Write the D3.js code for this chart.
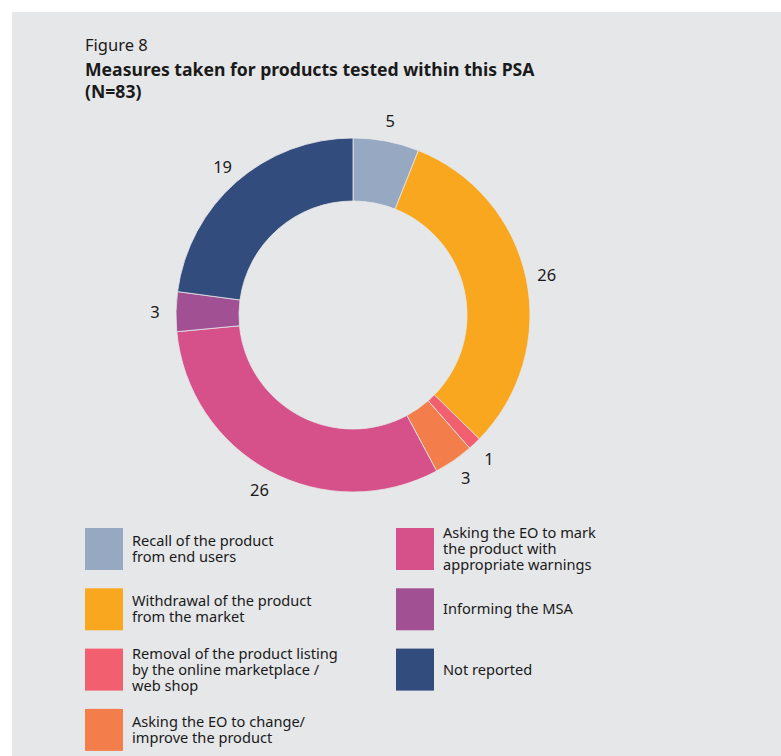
<!DOCTYPE html>
<html>
<head>
<meta charset="utf-8">
<script src="https://cdn.jsdelivr.net/npm/d3@7"></script>
<style>
  body { margin: 0; background: #fff; }
  svg { display: block; }
  text { font-family: "Noto Sans", Roboto, sans-serif; fill: #1a1a1a; }
</style>
</head>
<body>
<svg width="781" height="756"></svg>
<script>
const categories = [
  "Recall of the product from end users",
  "Withdrawal of the product from the market",
  "Removal of the product listing by the online marketplace / web shop",
  "Asking the EO to change/ improve the product",
  "Asking the EO to mark the product with appropriate warnings",
  "Informing the MSA",
  "Not reported"
];
const values = [5, 26, 1, 3, 26, 3, 19];
const colors = ["#97a8c2", "#f9a71e", "#f25f6f", "#f47e4b", "#d65189", "#a05093", "#314c7d"];
const legendLines = [
  ["Recall of the product", "from end users"],
  ["Withdrawal of the product", "from the market"],
  ["Removal of the product listing", "by the online marketplace /", "web shop"],
  ["Asking the EO to change/", "improve the product"],
  ["Asking the EO to mark", "the product with", "appropriate warnings"],
  ["Informing the MSA"],
  ["Not reported"]
];

const svg = d3.select("svg");
const W = 781, H = 756;

svg.append("rect")
  .attr("x", 12).attr("y", 12)
  .attr("width", W - 12).attr("height", H - 12)
  .attr("fill", "#e6e7e9");

// titles
svg.append("text").attr("x", 85).attr("y", 51)
  .attr("font-size", 16.5).text("Figure 8");
svg.append("text").attr("x", 85).attr("y", 76)
  .attr("font-size", 17.6).attr("font-weight", "bold")
  .text("Measures taken for products tested within this PSA");
svg.append("text").attr("x", 85).attr("y", 98)
  .attr("font-size", 17.6).attr("font-weight", "bold")
  .text("(N=83)");

// donut
const cx = 353, cy = 315, rOuter = 177, rInner = 114, rLabel = 198;
const data = values.map((v, i) => ({ name: categories[i], value: v, color: colors[i] }));

const pie = d3.pie().value(d => d.value).sort(null);
const arc = d3.arc().innerRadius(rInner).outerRadius(rOuter);
const labelArc = d3.arc().innerRadius(rLabel).outerRadius(rLabel);

const g = svg.append("g").attr("transform", `translate(${cx},${cy})`);
const arcs = pie(data);

g.selectAll("path")
  .data(arcs)
  .join("path")
  .attr("d", arc)
  .attr("fill", d => d.data.color)
  .attr("stroke", "#e6e7e9")
  .attr("stroke-width", 0.8);

g.selectAll("text")
  .data(arcs)
  .join("text")
  .attr("transform", d => `translate(${labelArc.centroid(d)})`)
  .attr("text-anchor", "middle")
  .attr("dominant-baseline", "central")
  .attr("font-size", 16.5)
  .text(d => d.data.value);

// legend
const rowStep = 60.3, legendTop = 528, sw = 38, sh = 42;
const colX = [85, 396];
const legend = svg.append("g");
const items = legend.selectAll("g")
  .data(data)
  .join("g")
  .attr("transform", (d, i) => {
    const col = i < 4 ? 0 : 1;
    const row = i < 4 ? i : i - 4;
    return `translate(${colX[col]},${legendTop + row * rowStep})`;
  });

items.append("rect")
  .attr("width", sw).attr("height", sh)
  .attr("fill", d => d.color);

items.append("text")
  .attr("font-size", 14.6)
  .each(function (d, i) {
    const lines = legendLines[i];
    const first = sh / 2 + 5 - (lines.length - 1) * 8;
    d3.select(this).selectAll("tspan")
      .data(lines)
      .join("tspan")
      .attr("x", 47)
      .attr("y", (l, j) => first + j * 16)
      .text(l => l);
  });
</script>
</body>
</html>
